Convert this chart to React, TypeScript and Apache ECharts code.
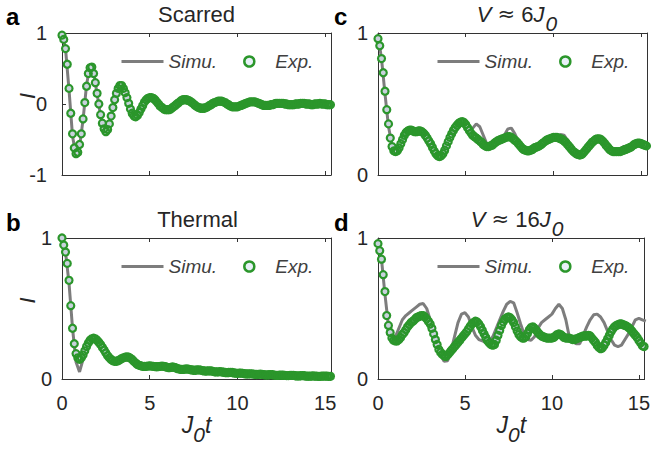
import React, { useEffect, useRef } from "react";
import * as echarts from "echarts";

const FONT = '"Liberation Sans", Arial, Helvetica, sans-serif';
const TEXT = "#262626";
const AXIS = "#333333";
const LEGEND_TEXT = "#404040";
const SIM_COLOR = "#7d7d7d";
const EXP_EDGE = "#2b962b";
const EXP_FILL = "#c8d1dc";
const EXP_LEGEND_FILL = "#e8f0f8";

// sampling steps (J0 t units) of the experimental points and of the simulation curve
const EXP_DT = 0.1;
const SIM_DT = 0.2;
const T_MAX = 15.33;
const X_TICK_STEP = 5;

const legendNames = ["Simu.", "Exp."];
const panelLetters = ["a", "b", "c", "d"];
const panelTitles = [
  "{n|Scarred}",
  "{n|Thermal}",
  "{i|V}{n| }{a|≈}{n| 6}{i|J}{s|0}",
  "{i|V}{n| }{a|≈}{n| 16}{i|J}{s|0}",
];
const yLabel = "I";
const xLabel = "{i|J}{s|0}{i|t}";

// ---------- panel a : Scarred ----------
const expScarred = [
  0.97, 0.91, 0.78, 0.56, 0.22, -0.13, -0.42, -0.62, -0.70, -0.68,
  -0.57, -0.42, -0.21, 0.02, 0.25, 0.43, 0.51, 0.52, 0.43, 0.30,
  0.15, 0.0, -0.15, -0.27, -0.35, -0.39, -0.36, -0.28, -0.17, -0.05,
  0.06, 0.15, 0.22, 0.26, 0.26, 0.22, 0.16, 0.09, 0.01, -0.07,
  -0.13, -0.17, -0.18, -0.16, -0.12, -0.07, -0.02, 0.03, 0.06, 0.08,
  0.09, 0.09, 0.08, 0.06, 0.03, 0.0, -0.03, -0.05, -0.07, -0.08,
  -0.08, -0.08, -0.07, -0.05, -0.03, -0.01, 0.01, 0.03, 0.05, 0.06,
  0.06, 0.06, 0.05, 0.04, 0.02, 0.0, -0.02, -0.04, -0.05, -0.06,
  -0.06, -0.06, -0.05, -0.04, -0.02, -0.01, 0.01, 0.02, 0.03, 0.04,
  0.04, 0.04, 0.03, 0.02, 0.0, -0.01, -0.03, -0.04, -0.04, -0.04,
  -0.04, -0.03, -0.02, -0.01, 0.0, 0.01, 0.02, 0.03, 0.03, 0.03,
  0.03, 0.02, 0.01, 0.0, -0.01, -0.02, -0.02, -0.02, -0.02, -0.01,
  -0.01, 0.0, 0.01, 0.01, 0.01, 0.01, 0.01, 0.0, 0.0, -0.01,
  -0.01, -0.01, -0.01, 0.0, 0.0, 0.0, 0.01, 0.01, 0.01, 0.0,
  0.0, 0.0, -0.01, -0.01, 0.0, 0.0, 0.0, 0.01, 0.0, 0.0,
  0.0, -0.01, -0.01, -0.01,
];
const simScarred = [
  1.0, 0.78, 0.2, -0.45, -0.74, -0.6, -0.22, 0.27, 0.55, 0.45,
  0.14, -0.17, -0.38, -0.38, -0.17, 0.07, 0.24, 0.28, 0.17, 0.01,
  -0.14, -0.19, -0.12, -0.02, 0.07, 0.1, 0.09, 0.04, -0.03, -0.07,
  -0.09, -0.08, -0.03, 0.01, 0.05, 0.06, 0.06, 0.03, -0.02, -0.05,
  -0.06, -0.06, -0.03, 0.0, 0.03, 0.04, 0.04, 0.01, -0.02, -0.04,
  -0.04, -0.03, 0.0, 0.02, 0.03, 0.03, 0.01, -0.01, -0.02, -0.02,
  -0.01, 0.0, 0.01, 0.01, 0.01, 0.0, -0.01, -0.01, 0.0, 0.0,
  0.01, 0.01, 0.0, -0.01, 0.0, 0.0, 0.0, 0.0,
];

// ---------- panel b : Thermal ----------
const expThermal = [
  1.0, 0.95, 0.90, 0.82, 0.70, 0.52, 0.36, 0.25, 0.18, 0.15,
  0.14, 0.15, 0.17, 0.2, 0.23, 0.255, 0.275, 0.285, 0.29, 0.285,
  0.275, 0.26, 0.245, 0.225, 0.205, 0.185, 0.165, 0.15, 0.138, 0.13,
  0.125, 0.126, 0.13, 0.137, 0.145, 0.15, 0.155, 0.157, 0.155, 0.148,
  0.138, 0.125, 0.113, 0.103, 0.097, 0.093, 0.09, 0.089, 0.09, 0.092,
  0.093, 0.092, 0.09, 0.088, 0.087, 0.088, 0.09, 0.091, 0.09, 0.087,
  0.083, 0.08, 0.082, 0.085, 0.083, 0.078, 0.073, 0.07, 0.068, 0.068,
  0.07, 0.071, 0.07, 0.067, 0.064, 0.062, 0.062, 0.064, 0.065, 0.063,
  0.06, 0.057, 0.056, 0.057, 0.058, 0.057, 0.054, 0.051, 0.05, 0.051,
  0.052, 0.051, 0.048, 0.046, 0.045, 0.046, 0.047, 0.046, 0.043, 0.041,
  0.04, 0.041, 0.042, 0.04, 0.038, 0.036, 0.036, 0.037, 0.037, 0.035,
  0.033, 0.032, 0.033, 0.034, 0.033, 0.031, 0.029, 0.029, 0.03, 0.031,
  0.03, 0.028, 0.026, 0.026, 0.027, 0.028, 0.027, 0.025, 0.024, 0.024,
  0.025, 0.026, 0.025, 0.023, 0.022, 0.022, 0.023, 0.024, 0.023, 0.021,
  0.02, 0.02, 0.021, 0.022, 0.021, 0.02, 0.019, 0.019, 0.02, 0.021,
  0.021, 0.02, 0.019, 0.019,
];
const simThermal = [
  1.0, 0.9, 0.68, 0.36, 0.12, 0.05, 0.14, 0.23, 0.28, 0.29,
  0.27, 0.24, 0.2, 0.16, 0.135, 0.125, 0.13, 0.145, 0.155, 0.155,
  0.138, 0.113, 0.097, 0.09, 0.09, 0.093, 0.09, 0.087, 0.09, 0.09,
  0.083, 0.082, 0.083, 0.073, 0.068, 0.07, 0.07, 0.064, 0.062, 0.065,
  0.06, 0.056, 0.058, 0.054, 0.05, 0.052, 0.048, 0.045, 0.047, 0.043,
  0.04, 0.042, 0.038, 0.036, 0.037, 0.033, 0.033, 0.033, 0.029, 0.03,
  0.03, 0.026, 0.027, 0.027, 0.024, 0.025, 0.025, 0.022, 0.023, 0.023,
  0.02, 0.021, 0.021, 0.019, 0.02, 0.021, 0.019, 0.019,
];

// ---------- panel c : V ≈ 6 J0 ----------
const expV6 = [
  0.96, 0.91, 0.82, 0.72, 0.59, 0.46, 0.36, 0.26, 0.20, 0.17,
  0.165, 0.17, 0.19, 0.22, 0.25, 0.28, 0.30, 0.31, 0.315, 0.315,
  0.31, 0.305, 0.305, 0.31, 0.31, 0.305, 0.295, 0.28, 0.26, 0.24,
  0.22, 0.195, 0.17, 0.15, 0.135, 0.13, 0.135, 0.15, 0.175, 0.205,
  0.235, 0.265, 0.29, 0.315, 0.335, 0.35, 0.365, 0.372, 0.375, 0.37,
  0.355, 0.335, 0.315, 0.295, 0.28, 0.27, 0.26, 0.25, 0.24, 0.23,
  0.215, 0.205, 0.2, 0.2, 0.205, 0.21, 0.22, 0.23, 0.24, 0.245,
  0.25, 0.255, 0.26, 0.265, 0.27, 0.27, 0.265, 0.255, 0.245, 0.235,
  0.22, 0.205, 0.19, 0.18, 0.175, 0.17, 0.17, 0.175, 0.18, 0.19,
  0.195, 0.2, 0.205, 0.215, 0.225, 0.235, 0.245, 0.25, 0.255, 0.26,
  0.265, 0.265, 0.265, 0.26, 0.255, 0.25, 0.24, 0.23, 0.215, 0.2,
  0.185, 0.17, 0.16, 0.15, 0.145, 0.14, 0.145, 0.155, 0.17, 0.185,
  0.2, 0.215, 0.23, 0.24, 0.25, 0.255, 0.255, 0.25, 0.24, 0.225,
  0.21, 0.195, 0.18, 0.17, 0.165, 0.165, 0.165, 0.165, 0.165, 0.17,
  0.175, 0.18, 0.185, 0.19, 0.195, 0.205, 0.215, 0.22, 0.225, 0.225,
  0.22, 0.215, 0.21, 0.205,
];
const simV6 = [
  0.98, 0.82, 0.57, 0.34, 0.21, 0.17, 0.2, 0.26, 0.31, 0.325,
  0.315, 0.305, 0.31, 0.3, 0.265, 0.22, 0.17, 0.135, 0.13, 0.17,
  0.23, 0.29, 0.335, 0.36, 0.37, 0.35, 0.32, 0.33, 0.36, 0.34,
  0.28, 0.22, 0.2, 0.22, 0.24, 0.25, 0.28, 0.325, 0.33, 0.29,
  0.235, 0.195, 0.175, 0.17, 0.18, 0.195, 0.21, 0.23, 0.25, 0.26,
  0.27, 0.275, 0.285, 0.28, 0.245, 0.2, 0.165, 0.15, 0.15, 0.17,
  0.2, 0.225, 0.25, 0.26, 0.255, 0.235, 0.205, 0.185, 0.18, 0.185,
  0.2, 0.2, 0.195, 0.205, 0.215, 0.22, 0.215, 0.21,
];

// ---------- panel d : V ≈ 16 J0 ----------
const expV16 = [
  0.96, 0.91, 0.85, 0.74, 0.62, 0.45, 0.38, 0.33, 0.29, 0.275,
  0.27, 0.27, 0.28, 0.295, 0.315, 0.33, 0.35, 0.37, 0.385, 0.4,
  0.41, 0.42, 0.435, 0.44, 0.445, 0.45, 0.45, 0.44, 0.425, 0.41,
  0.39, 0.36, 0.32, 0.28, 0.245, 0.21, 0.19, 0.175, 0.165, 0.16,
  0.17, 0.185, 0.2, 0.215, 0.23, 0.245, 0.26, 0.275, 0.29, 0.305,
  0.32, 0.335, 0.355, 0.375, 0.39, 0.4, 0.41, 0.405, 0.39, 0.37,
  0.345, 0.32, 0.295, 0.27, 0.255, 0.245, 0.24, 0.245, 0.275, 0.31,
  0.345, 0.38, 0.405, 0.425, 0.435, 0.44, 0.435, 0.42, 0.4, 0.37,
  0.34, 0.315, 0.3, 0.29, 0.29, 0.3, 0.325, 0.35, 0.365, 0.37,
  0.36, 0.345, 0.33, 0.315, 0.305, 0.3, 0.295, 0.29, 0.29, 0.29,
  0.29, 0.295, 0.305, 0.315, 0.32, 0.315, 0.305, 0.295, 0.29, 0.29,
  0.29, 0.285, 0.28, 0.28, 0.285, 0.29, 0.295, 0.3, 0.305, 0.305,
  0.305, 0.31, 0.305, 0.29, 0.275, 0.26, 0.24, 0.225, 0.215, 0.22,
  0.24, 0.26, 0.285, 0.31, 0.335, 0.355, 0.37, 0.38, 0.385, 0.39,
  0.39, 0.385, 0.38, 0.375, 0.365, 0.355, 0.34, 0.325, 0.31, 0.295,
  0.275, 0.255, 0.235, 0.23,
];
const simV16 = [
  0.98, 0.85, 0.6, 0.38, 0.3, 0.3, 0.36, 0.42, 0.45, 0.47,
  0.49, 0.51, 0.53, 0.535, 0.5, 0.42, 0.33, 0.24, 0.17, 0.125,
  0.13, 0.2, 0.3, 0.4, 0.46, 0.47, 0.44, 0.37, 0.31, 0.28,
  0.27, 0.26, 0.265, 0.3, 0.36, 0.42, 0.48, 0.53, 0.55, 0.54,
  0.47, 0.39, 0.32, 0.28, 0.275, 0.3, 0.36, 0.4, 0.42, 0.44,
  0.46, 0.5, 0.53, 0.5, 0.42, 0.3, 0.27, 0.25, 0.25, 0.31,
  0.37, 0.42, 0.455, 0.46, 0.44, 0.4, 0.34, 0.28, 0.24, 0.23,
  0.24, 0.28, 0.32, 0.37, 0.42, 0.43, 0.42, 0.41,
];

const expSets = [expScarred, expThermal, expV6, expV16];
const simSets = [simScarred, simThermal, simV6, simV16];
const yMins = [-1, 0, 0, 0];
const yMaxs = [1, 1, 1, 1];

// layout (pixels)
const GRIDS = [
  { left: 62, top: 33, width: 269, height: 142 },
  { left: 62, top: 238, width: 269, height: 141 },
  { left: 378, top: 33, width: 269, height: 142 },
  { left: 378, top: 238, width: 269, height: 141 },
];
const SHOW_X_LABELS = [false, true, false, true];
const SHOW_Y_NAME = [true, true, false, false];
const Y_LABEL_MARGIN = [15, 10, 10, 10];
const TITLE_POS = [
  [196.5, 3],
  [197.5, 208],
  [517, 3],
  [517, 208],
];
const LETTER_POS = [
  [6, 16.5],
  [6, 222.5],
  [334, 16.5],
  [334, 222.5],
];

const toPairs = (vals: number[], dt: number) =>
  vals.map((v, i) => [Math.round(i * dt * 1000) / 1000, v]);

const titleRich = {
  n: { fontSize: 22, fontFamily: FONT, fill: TEXT, lineHeight: 24, verticalAlign: "top" },
  a: { fontSize: 21, fontFamily: '"DejaVu Sans", sans-serif', fill: TEXT, lineHeight: 24, verticalAlign: "top" },
  i: { fontSize: 22, fontFamily: FONT, fontStyle: "italic", fill: TEXT, lineHeight: 24, verticalAlign: "top" },
  s: { fontSize: 21, fontFamily: FONT, fontStyle: "italic", fill: TEXT, lineHeight: 22, verticalAlign: "top", padding: [10, 0, 0, 1] },
};

const axisNameRich = {
  i: { fontSize: 23, fontFamily: FONT, fontStyle: "italic", color: TEXT, lineHeight: 24, verticalAlign: "top" },
  s: { fontSize: 21, fontFamily: FONT, fontStyle: "italic", color: TEXT, lineHeight: 22, verticalAlign: "top", padding: [11, 0, 0, 0] },
};

const HIDDEN = "rgba(0,0,0,0)";

function buildOption() {
  const xAxis: any[] = [];
  const yAxis: any[] = [];
  const series: any[] = [];
  const legend: any[] = [];
  const graphic: any[] = [];

  GRIDS.forEach((g, i) => {
    const lineStyle = { color: AXIS, width: 1 };
    xAxis.push({
      type: "value",
      gridIndex: i,
      min: 0,
      max: T_MAX,
      interval: X_TICK_STEP,
      position: "bottom",
      axisLine: { show: true, onZero: false, lineStyle },
      axisTick: { show: true, inside: true, length: 4, lineStyle },
      axisLabel: {
        show: SHOW_X_LABELS[i],
        showMaxLabel: false,
        margin: 14,
        fontSize: 20,
        color: TEXT,
        fontFamily: FONT,
      },
      splitLine: { show: false },
      name: SHOW_X_LABELS[i] ? xLabel : "",
      nameLocation: "middle",
      nameGap: 34,
      nameMoveOverlap: false,
      nameTextStyle: { fontSize: 23, fontFamily: FONT, color: TEXT, rich: axisNameRich },
    });
    xAxis.push({
      type: "value",
      gridIndex: i,
      min: 0,
      max: T_MAX,
      interval: X_TICK_STEP,
      position: "top",
      axisLine: { show: true, onZero: false, lineStyle },
      axisTick: { show: true, inside: true, length: 4, lineStyle },
      axisLabel: { show: false },
      splitLine: { show: false },
    });
    yAxis.push({
      type: "value",
      gridIndex: i,
      min: yMins[i],
      max: yMaxs[i],
      interval: 1,
      position: "left",
      axisLine: { show: true, onZero: false, lineStyle },
      axisTick: { show: true, inside: true, length: 4, lineStyle },
      axisLabel: { margin: Y_LABEL_MARGIN[i], fontSize: 20, color: TEXT, fontFamily: FONT },
      splitLine: { show: false },
      name: SHOW_Y_NAME[i] ? yLabel : "",
      nameLocation: "middle",
      nameRotate: 90,
      nameGap: 24,
      nameMoveOverlap: false,
      nameTextStyle: { fontSize: 22, fontStyle: "italic", fontFamily: FONT, color: TEXT, padding: [0, 0, 0, 16] },
    });
    yAxis.push({
      type: "value",
      gridIndex: i,
      min: yMins[i],
      max: yMaxs[i],
      interval: 1,
      position: "right",
      axisLine: { show: true, onZero: false, lineStyle },
      axisTick: { show: true, inside: true, length: 4, lineStyle },
      axisLabel: { show: false },
      splitLine: { show: false },
    });

    const expData = toPairs(expSets[i], EXP_DT);
    series.push({
      type: "line",
      name: legendNames[0],
      xAxisIndex: 2 * i,
      yAxisIndex: 2 * i,
      data: toPairs(simSets[i], SIM_DT),
      symbol: "none",
      showSymbol: false,
      lineStyle: { color: SIM_COLOR, width: 3 },
      itemStyle: { color: SIM_COLOR },
      clip: true,
      silent: true,
      z: 2,
    });
    // marker faces (drawn first, beneath all marker edges)
    series.push({
      type: "scatter",
      name: "Exp. faces",
      xAxisIndex: 2 * i,
      yAxisIndex: 2 * i,
      data: expData,
      symbol: "circle",
      symbolSize: 7,
      itemStyle: { color: EXP_FILL, borderWidth: 0, opacity: 1 },
      silent: true,
      z: 3,
    });
    // marker edges
    series.push({
      type: "scatter",
      name: legendNames[1],
      xAxisIndex: 2 * i,
      yAxisIndex: 2 * i,
      data: expData,
      symbol: "circle",
      symbolSize: 7,
      itemStyle: { color: HIDDEN, borderColor: EXP_EDGE, borderWidth: 2.2, opacity: 1 },
      silent: true,
      z: 4,
    });

    legend.push({
      left: g.left + 53,
      top: g.top + 14,
      orient: "horizontal",
      itemWidth: 42,
      itemHeight: 10,
      itemGap: 26,
      selectedMode: false,
      textStyle: { fontSize: 19, fontStyle: "italic", color: LEGEND_TEXT, fontFamily: FONT },
      data: [
        {
          name: legendNames[0],
          lineStyle: { color: SIM_COLOR, width: 3 },
          itemStyle: { color: HIDDEN, borderColor: HIDDEN, borderWidth: 0 },
        },
        {
          name: legendNames[1],
          icon: "circle",
          itemStyle: { color: EXP_LEGEND_FILL, borderColor: EXP_EDGE, borderWidth: 2.5 },
        },
      ],
    });

    graphic.push({
      type: "text",
      x: TITLE_POS[i][0],
      y: TITLE_POS[i][1],
      style: {
        text: panelTitles[i],
        rich: titleRich,
        align: "center",
        verticalAlign: "top",
        fontSize: 22,
        fontFamily: FONT,
        fill: TEXT,
      },
    });
    graphic.push({
      type: "text",
      x: LETTER_POS[i][0],
      y: LETTER_POS[i][1],
      style: {
        text: panelLetters[i],
        align: "left",
        verticalAlign: "middle",
        fontSize: 24,
        fontWeight: "bold",
        fontFamily: FONT,
        fill: "#000000",
      },
    });
  });

  return {
    animation: false,
    backgroundColor: "#ffffff",
    textStyle: { fontFamily: FONT },
    grid: GRIDS.map((g) => ({ ...g, containLabel: false })),
    xAxis,
    yAxis,
    series,
    legend,
    graphic,
  };
}

export default function App() {
  const ref = useRef<HTMLDivElement>(null);
  useEffect(() => {
    if (!ref.current) return;
    const chart = echarts.init(ref.current, undefined, { renderer: "svg" });
    chart.setOption(buildOption() as any);
    return () => chart.dispose();
  }, []);
  return (
    <div
      ref={ref}
      style={{ position: "fixed", left: 0, top: 0, width: 653, height: 456, background: "#fff" }}
    />
  );
}
